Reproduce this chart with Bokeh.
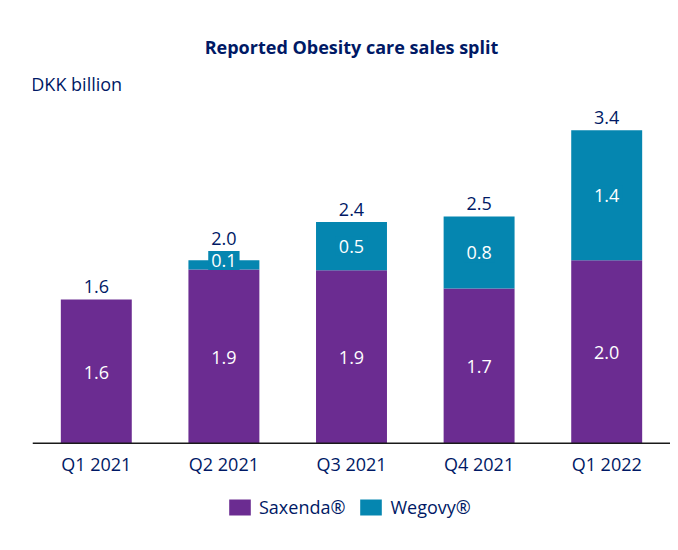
from bokeh.plotting import figure
from bokeh.models import ColumnDataSource, Range1d, FactorRange, Span, Legend, LegendItem
from bokeh.core.properties import value
from bokeh.embed import file_html
from bokeh.resources import INLINE

# ---- data ----
quarters = ["Q1 2021", "Q2 2021", "Q3 2021", "Q4 2021", "Q1 2022"]
saxenda = [1.58, 1.91, 1.90, 1.70, 2.01]
wegovy = [0.00, 0.10, 0.53, 0.79, 1.43]
saxenda_labels = ["1.6", "1.9", "1.9", "1.7", "2.0"]
wegovy_labels = ["", "0.1", "0.5", "0.8", "1.4"]
total_labels = ["1.6", "2.0", "2.4", "2.5", "3.4"]
series_names = ["Saxenda®", "Wegovy®"]
unit_label = "DKK billion"
title_text = "Reported Obesity care sales split"

# ---- styles ----
PURPLE = "#6b2c91"
TEAL = "#0586b0"
NAVY = "#001965"
FONT = "Open Sans"
FS = "18px"
PX_PER_UNIT = 91.0
HEIGHT = 542
ABOVE_PX = 442.7              # frame top to baseline
BELOW_PX = HEIGHT - ABOVE_PX  # baseline to frame bottom
BOX_HALF = 9.0 / PX_PER_UNIT  # half height of a boxed segment label, in data units

totals = [s + w for s, w in zip(saxenda, wegovy)]

# segment-label anchors: a label that is taller than its segment sits on the segment below
wq, wmid, wlab = [], [], []
label_top = list(totals)
for i, (q, s, w, l) in enumerate(zip(quarters, saxenda, wegovy, wegovy_labels)):
    if l:
        y = max(s + w / 2, s + BOX_HALF)
        wq.append(q); wmid.append(y); wlab.append(l)
        label_top[i] = max(totals[i], y + BOX_HALF)

src = ColumnDataSource(dict(
    quarter=quarters, saxenda=saxenda, wegovy=wegovy,
    smid=[s / 2 for s in saxenda], slab=saxenda_labels,
    ttop=label_top, tlab=total_labels,
))
wsrc = ColumnDataSource(dict(quarter=wq, wmid=wmid, wlab=wlab))

p = figure(
    x_range=FactorRange(*quarters),
    y_range=Range1d(-BELOW_PX / PX_PER_UNIT, ABOVE_PX / PX_PER_UNIT),
    width=670, height=HEIGHT, output_backend="svg", toolbar_location=None,
    title_location=None, min_border_left=32, min_border_right=0,
    min_border_top=0, min_border_bottom=0,
)
p.x_range.range_padding = 0
p.axis.visible = False
p.grid.visible = False
p.outline_line_color = None
p.background_fill_color = "white"
p.border_fill_color = "white"

rs = p.vbar_stack(["saxenda", "wegovy"], x="quarter", width=0.556,
                  color=[PURPLE, TEAL], line_width=0, source=src)

p.add_layout(Span(location=0, dimension="width", line_color="#1a1a1a", line_width=1.5))

# labels inside Saxenda segments
p.text(x="quarter", y="smid", text="slab", source=src, text_color="white",
       text_font=value(FONT), text_font_size=FS, text_align="center",
       text_baseline="middle", y_offset=1)
# labels inside Wegovy segments (boxed so the small segment label is readable)
p.text(x="quarter", y="wmid", text="wlab", source=wsrc,
       text_color="white", text_font=value(FONT), text_font_size=FS,
       text_align="center", text_baseline="middle",
       background_fill_color=TEAL, padding=3)
# totals above bars
p.text(x="quarter", y="ttop", text="tlab", source=src, text_color=NAVY,
       text_font=value(FONT), text_font_size=FS, text_align="center",
       text_baseline="middle", y_offset=-13)
# category labels under axis
p.text(x=quarters, y=[0] * len(quarters), text=quarters, text_color=NAVY,
       text_font=value(FONT), text_font_size=FS, text_align="center",
       text_baseline="middle", y_offset=21)
# title
p.text(x=[quarters[2]], y=[ABOVE_PX / PX_PER_UNIT], text=[title_text], text_color=NAVY,
       text_font=value(FONT), text_font_size=FS, text_font_style="bold",
       text_align="center", text_baseline="middle", y_offset=46)
# unit label
p.text(x=[quarters[0]], y=[ABOVE_PX / PX_PER_UNIT], text=[unit_label], text_color=NAVY,
       text_font=value(FONT), text_font_size=FS, text_align="left",
       text_baseline="middle", x_offset=-65, y_offset=83)

legend = Legend(
    items=[LegendItem(label=series_names[0], renderers=[rs[0]]),
           LegendItem(label=series_names[1], renderers=[rs[1]])],
    orientation="horizontal", location=(194, 23),
    glyph_width=27, glyph_height=20, label_standoff=6, spacing=12,
    padding=0, margin=0, border_line_color=None, background_fill_alpha=0,
    label_text_font=FONT, label_text_font_size=FS, label_text_color=NAVY,
)
p.add_layout(legend)

open("out.html", "w").write(file_html(p, INLINE))
